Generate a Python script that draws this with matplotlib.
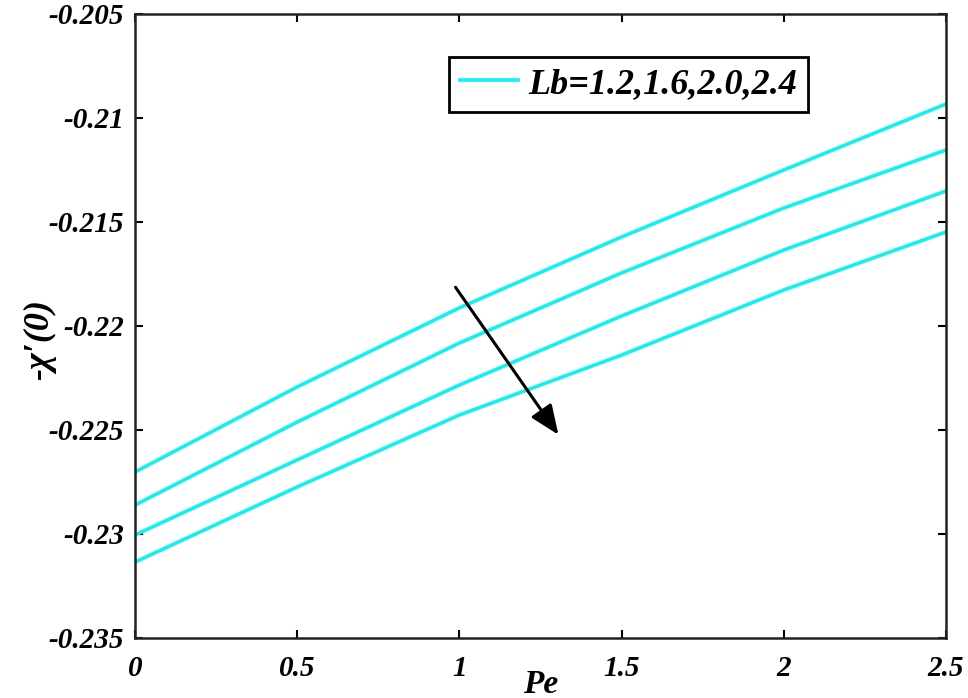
import numpy as np
import matplotlib
matplotlib.use("Agg")
import matplotlib.pyplot as plt

# Pe values and -chi'(0) for Lb = 1.2, 1.6, 2.0, 2.4
pe = [0, 0.5, 1.0, 1.5, 2.0, 2.5]
lb_12 = [-0.22702, -0.22293, -0.21913, -0.21572, -0.21250, -0.20933]
lb_16 = [-0.22861, -0.22462, -0.22082, -0.21745, -0.21433, -0.21154]
lb_20 = [-0.23005, -0.22644, -0.22284, -0.21952, -0.21635, -0.21351]
lb_24 = [-0.23135, -0.22774, -0.22428, -0.22140, -0.21827, -0.21548]

xticks = [0, 0.5, 1, 1.5, 2, 2.5]
xticklabels = ['0', '0.5', '1', '1.5', '2', '2.5']
yticks = [-0.235, -0.23, -0.225, -0.22, -0.215, -0.21, -0.205]
yticklabels = ['-0.235', '-0.23', '-0.225', '-0.22', '-0.215', '-0.21', '-0.205']

serif = ['Liberation Serif', 'DejaVu Serif']
plt.rcParams['font.family'] = serif

fig = plt.figure(figsize=(9.68, 6.98), dpi=100)
ax = fig.add_axes([0.1395, 0.086, 0.8378, 0.894])

for i, ys in enumerate([lb_12, lb_16, lb_20, lb_24]):
    ax.plot(pe, ys, color='#14f0f0', lw=2.6,
            label='Lb=1.2,1.6,2.0,2.4' if i == 0 else None)

ax.annotate('', xy=(1.31, -0.22534), xytext=(0.983, -0.21803),
            arrowprops=dict(arrowstyle='-|>,head_length=0.6,head_width=0.25',
                            color='black', lw=2.2, mutation_scale=30))

ax.set_xlim(0, 2.5)
ax.set_ylim(-0.235, -0.205)
ax.set_xticks(xticks)
ax.set_xticklabels(xticklabels)
ax.set_yticks(yticks)
ax.set_yticklabels(yticklabels)
ax.tick_params(direction='in', length=6, width=1.5, top=True, right=True,
               labelsize=21)
ax.tick_params(axis='x', pad=12)
ax.tick_params(axis='y', pad=8)
for lab in ax.get_xticklabels() + ax.get_yticklabels():
    lab.set_fontweight('bold')
    lab.set_fontstyle('italic')
for sp in ax.spines.values():
    sp.set_linewidth(1.8)
    sp.set_color('#222222')

ax.set_xlabel('Pe', fontsize=24, fontweight='bold', fontstyle='italic', va='center')
ax.xaxis.set_label_coords(0.5, -0.074)
ax.set_ylabel('-χ′(0)', fontsize=26, fontweight='bold', fontstyle='italic', va='center')
ax.yaxis.set_label_coords(-0.118, 0.478)

leg = ax.legend(loc='upper left', bbox_to_anchor=(0.387, 0.931), borderaxespad=0,
                fancybox=False, edgecolor='black', framealpha=1,
                prop=dict(family=serif, weight='bold', style='italic', size=26),
                handlelength=1.6, handletextpad=0.3, borderpad=0.3)
leg.get_frame().set_linewidth(2)

plt.savefig('out.png', dpi=100)
